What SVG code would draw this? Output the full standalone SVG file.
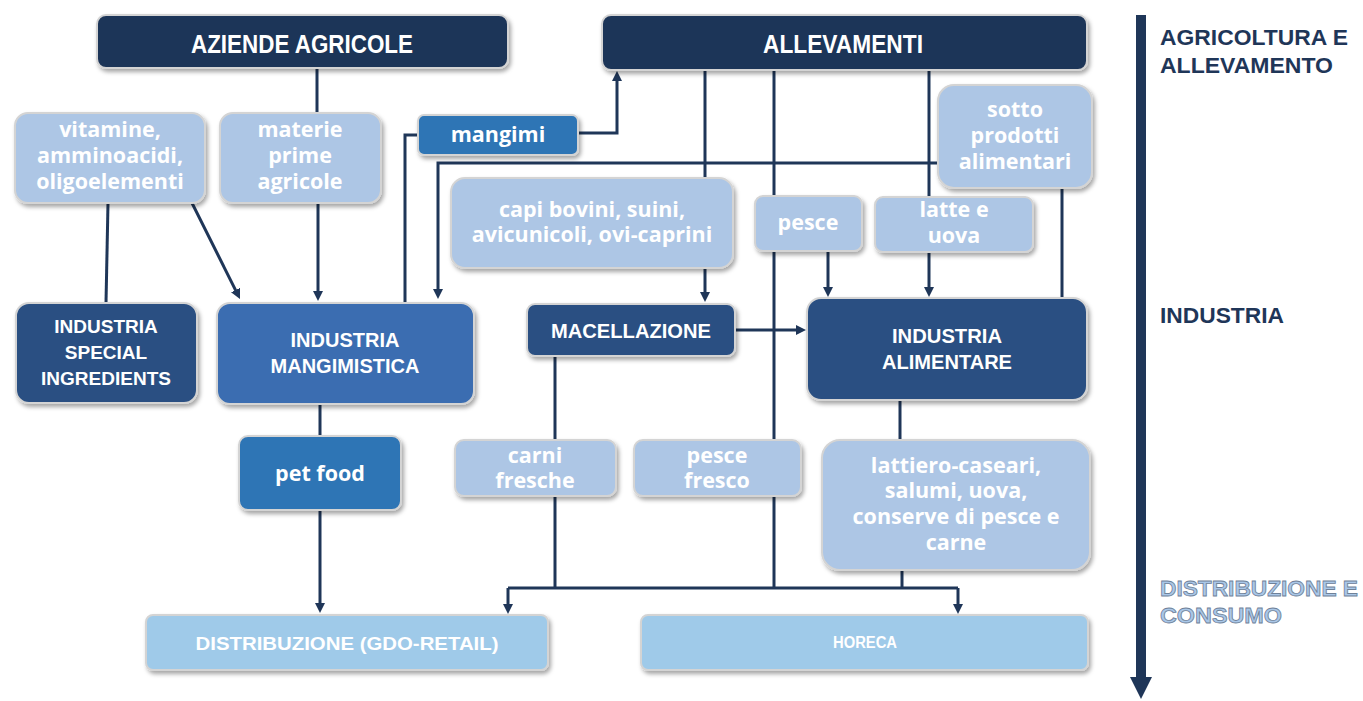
<svg xmlns="http://www.w3.org/2000/svg" width="1363" height="701" viewBox="0 0 1363 701">
<defs>
<filter id="sh" x="-10%" y="-10%" width="130%" height="140%">
<feDropShadow dx="2" dy="3" stdDeviation="2" flood-color="#000" flood-opacity="0.35"/>
</filter>
<marker id="ah" viewBox="0 0 10 10" refX="2" refY="5" markerUnits="userSpaceOnUse" markerWidth="10" markerHeight="10" orient="auto">
<path d="M0,0 L10,5 L0,10 z" fill="#1f3658"/>
</marker>
</defs>
<style>
.box{stroke:#d4d4d4;stroke-width:2;filter:url(#sh)}
.navy{fill:#1f3658}
.mid{fill:#2b5082}
.mang{fill:#3a6db1}
.blue{fill:#2e74b5}
.lt{fill:#adc6e5}
.sky{fill:#9fcae9}
.tc{font-family:"Liberation Sans",Arial,sans-serif;font-weight:bold;fill:#fff;text-anchor:middle}
.tl{font-family:"Open Sans","Liberation Sans",sans-serif;font-weight:bold;fill:#fff;text-anchor:middle;font-size:21.5px}
.side{font-family:"Liberation Sans",Arial,sans-serif;font-weight:bold;font-size:22px}
.ln{fill:none;stroke:#1f3658;stroke-width:3}
.ar{marker-end:url(#ah)}
</style>

<g id="connectors">
<path class="ln" d="M317,68 V113"/>
<path class="ln ar" d="M318,203 V293"/>
<path class="ln" d="M108,203 L106,303"/>
<path class="ln ar" d="M192,203 L236.4,291.8"/>
<path class="ln" d="M418,135 H405 V303"/>
<path class="ln ar" d="M578,133 H617 V79"/>
<path class="ln ar" d="M938,163 H438 V291"/>
<path class="ln" d="M705,70 V178"/>
<path class="ln ar" d="M705,268 V294"/>
<path class="ln" d="M774,70 V196"/>
<path class="ln" d="M774,251 V440"/>
<path class="ln" d="M774,496 V588"/>
<path class="ln ar" d="M828,251 V289"/>
<path class="ln" d="M929,70 V197"/>
<path class="ln ar" d="M929,252 V289"/>
<path class="ln" d="M1062,188 V298"/>
<path class="ln ar" d="M735,330 H798"/>
<path class="ln" d="M555,356 V440"/>
<path class="ln" d="M555,496 V588"/>
<path class="ln" d="M900,400 V440"/>
<path class="ln" d="M902,570 V588"/>
<path class="ln" d="M508,588 H958"/>
<path class="ln ar" d="M508,588 V606"/>
<path class="ln ar" d="M958,588 V606"/>
<path class="ln" d="M320,404 V436"/>
<path class="ln ar" d="M320,510 V605"/>
</g>

<g id="aziende-agricole">
<rect class="box navy" x="97" y="15" width="411" height="53" rx="9"/>
<text class="tc" x="302" y="53" font-size="25" textLength="222" lengthAdjust="spacingAndGlyphs">AZIENDE AGRICOLE</text>
</g>
<g id="allevamenti">
<rect class="box navy" x="602" y="15" width="485" height="55" rx="9"/>
<text class="tc" x="843" y="53" font-size="25" textLength="160" lengthAdjust="spacingAndGlyphs">ALLEVAMENTI</text>
</g>

<g id="vitamine">
<rect class="box lt" x="15" y="113" width="190" height="90" rx="13"/>
<text class="tl" x="110" y="137">vitamine,</text>
<text class="tl" x="110" y="163">amminoacidi,</text>
<text class="tl" x="110" y="189">oligoelementi</text>
</g>
<g id="materie-prime">
<rect class="box lt" x="220" y="113" width="161" height="90" rx="13"/>
<text class="tl" x="300" y="137">materie</text>
<text class="tl" x="300" y="163">prime</text>
<text class="tl" x="300" y="189">agricole</text>
</g>
<g id="mangimi">
<rect class="box blue" x="418" y="115" width="160" height="40" rx="6"/>
<text class="tl" x="498" y="142">mangimi</text>
</g>
<g id="sotto-prodotti">
<rect class="box lt" x="938" y="85" width="154" height="103" rx="16"/>
<text class="tl" x="1015" y="117">sotto</text>
<text class="tl" x="1015" y="143">prodotti</text>
<text class="tl" x="1015" y="169">alimentari</text>
</g>
<g id="capi">
<rect class="box lt" x="451" y="178" width="282" height="90" rx="14"/>
<text class="tl" x="592" y="217">capi bovini, suini,</text>
<text class="tl" x="592" y="242">avicunicoli, ovi-caprini</text>
</g>
<g id="pesce">
<rect class="box lt" x="755" y="196" width="107" height="55" rx="8"/>
<text class="tl" x="808" y="230">pesce</text>
</g>
<g id="latte-uova">
<rect class="box lt" x="875" y="197" width="158" height="55" rx="8"/>
<text class="tl" x="954" y="217">latte e</text>
<text class="tl" x="954" y="243">uova</text>
</g>

<g id="industria-special">
<rect class="box mid" x="16" y="303" width="181" height="100" rx="13"/>
<text class="tc" x="106" y="333" font-size="19">INDUSTRIA</text>
<text class="tc" x="106" y="359" font-size="19">SPECIAL</text>
<text class="tc" x="106" y="385" font-size="19">INGREDIENTS</text>
</g>
<g id="industria-mangimistica">
<rect class="box mang" x="217" y="303" width="257" height="101" rx="13"/>
<text class="tc" x="345" y="347" font-size="20">INDUSTRIA</text>
<text class="tc" x="345" y="373" font-size="20">MANGIMISTICA</text>
</g>
<g id="macellazione">
<rect class="box mid" x="527" y="304" width="208" height="52" rx="8"/>
<text class="tc" x="631" y="338" font-size="21" textLength="160" lengthAdjust="spacingAndGlyphs">MACELLAZIONE</text>
</g>
<g id="industria-alimentare">
<rect class="box mid" x="807" y="298" width="280" height="102" rx="14"/>
<text class="tc" x="947" y="343" font-size="21" textLength="110" lengthAdjust="spacingAndGlyphs">INDUSTRIA</text>
<text class="tc" x="947" y="369" font-size="21" textLength="130" lengthAdjust="spacingAndGlyphs">ALIMENTARE</text>
</g>

<g id="pet-food">
<rect class="box blue" x="239" y="436" width="162" height="74" rx="9"/>
<text class="tl" x="320" y="481" font-size="23">pet food</text>
</g>
<g id="carni-fresche">
<rect class="box lt" x="455" y="440" width="161" height="56" rx="9"/>
<text class="tl" x="535" y="463">carni</text>
<text class="tl" x="535" y="488">fresche</text>
</g>
<g id="pesce-fresco">
<rect class="box lt" x="634" y="440" width="167" height="56" rx="9"/>
<text class="tl" x="717" y="463">pesce</text>
<text class="tl" x="717" y="488">fresco</text>
</g>
<g id="lattiero-caseari">
<rect class="box lt" x="822" y="440" width="268" height="130" rx="18"/>
<text class="tl" x="956" y="473">lattiero-caseari,</text>
<text class="tl" x="956" y="498">salumi, uova,</text>
<text class="tl" x="956" y="524">conserve di pesce e</text>
<text class="tl" x="956" y="550">carne</text>
</g>

<g id="distribuzione">
<rect class="box sky" x="146" y="615" width="402" height="55" rx="7"/>
<text class="tc" x="347" y="650" font-size="19" textLength="303" lengthAdjust="spacingAndGlyphs">DISTRIBUZIONE (GDO-RETAIL)</text>
</g>
<g id="horeca">
<rect class="box sky" x="641" y="615" width="447" height="55" rx="7"/>
<text class="tc" x="865" y="648" font-size="16" textLength="64" lengthAdjust="spacingAndGlyphs">HORECA</text>
</g>

<g id="timeline">
<rect x="1136" y="15" width="10" height="665" fill="#1f3658"/>
<polygon points="1130,677 1152,677 1141,699" fill="#1f3658"/>
<text class="side" x="1160" y="45" fill="#1f3658" textLength="188" lengthAdjust="spacingAndGlyphs">AGRICOLTURA E</text>
<text class="side" x="1160" y="73" fill="#1f3658" textLength="173" lengthAdjust="spacingAndGlyphs">ALLEVAMENTO</text>
<text class="side" x="1160" y="323" fill="#1f3658" textLength="124" lengthAdjust="spacingAndGlyphs">INDUSTRIA</text>
<text class="side" x="1160" y="596" fill="#a9c7e8" stroke="#6f8199" stroke-width="0.8" textLength="198" lengthAdjust="spacingAndGlyphs">DISTRIBUZIONE E</text>
<text class="side" x="1160" y="623" fill="#a9c7e8" stroke="#6f8199" stroke-width="0.8" textLength="122" lengthAdjust="spacingAndGlyphs">CONSUMO</text>
</g>
</svg>
